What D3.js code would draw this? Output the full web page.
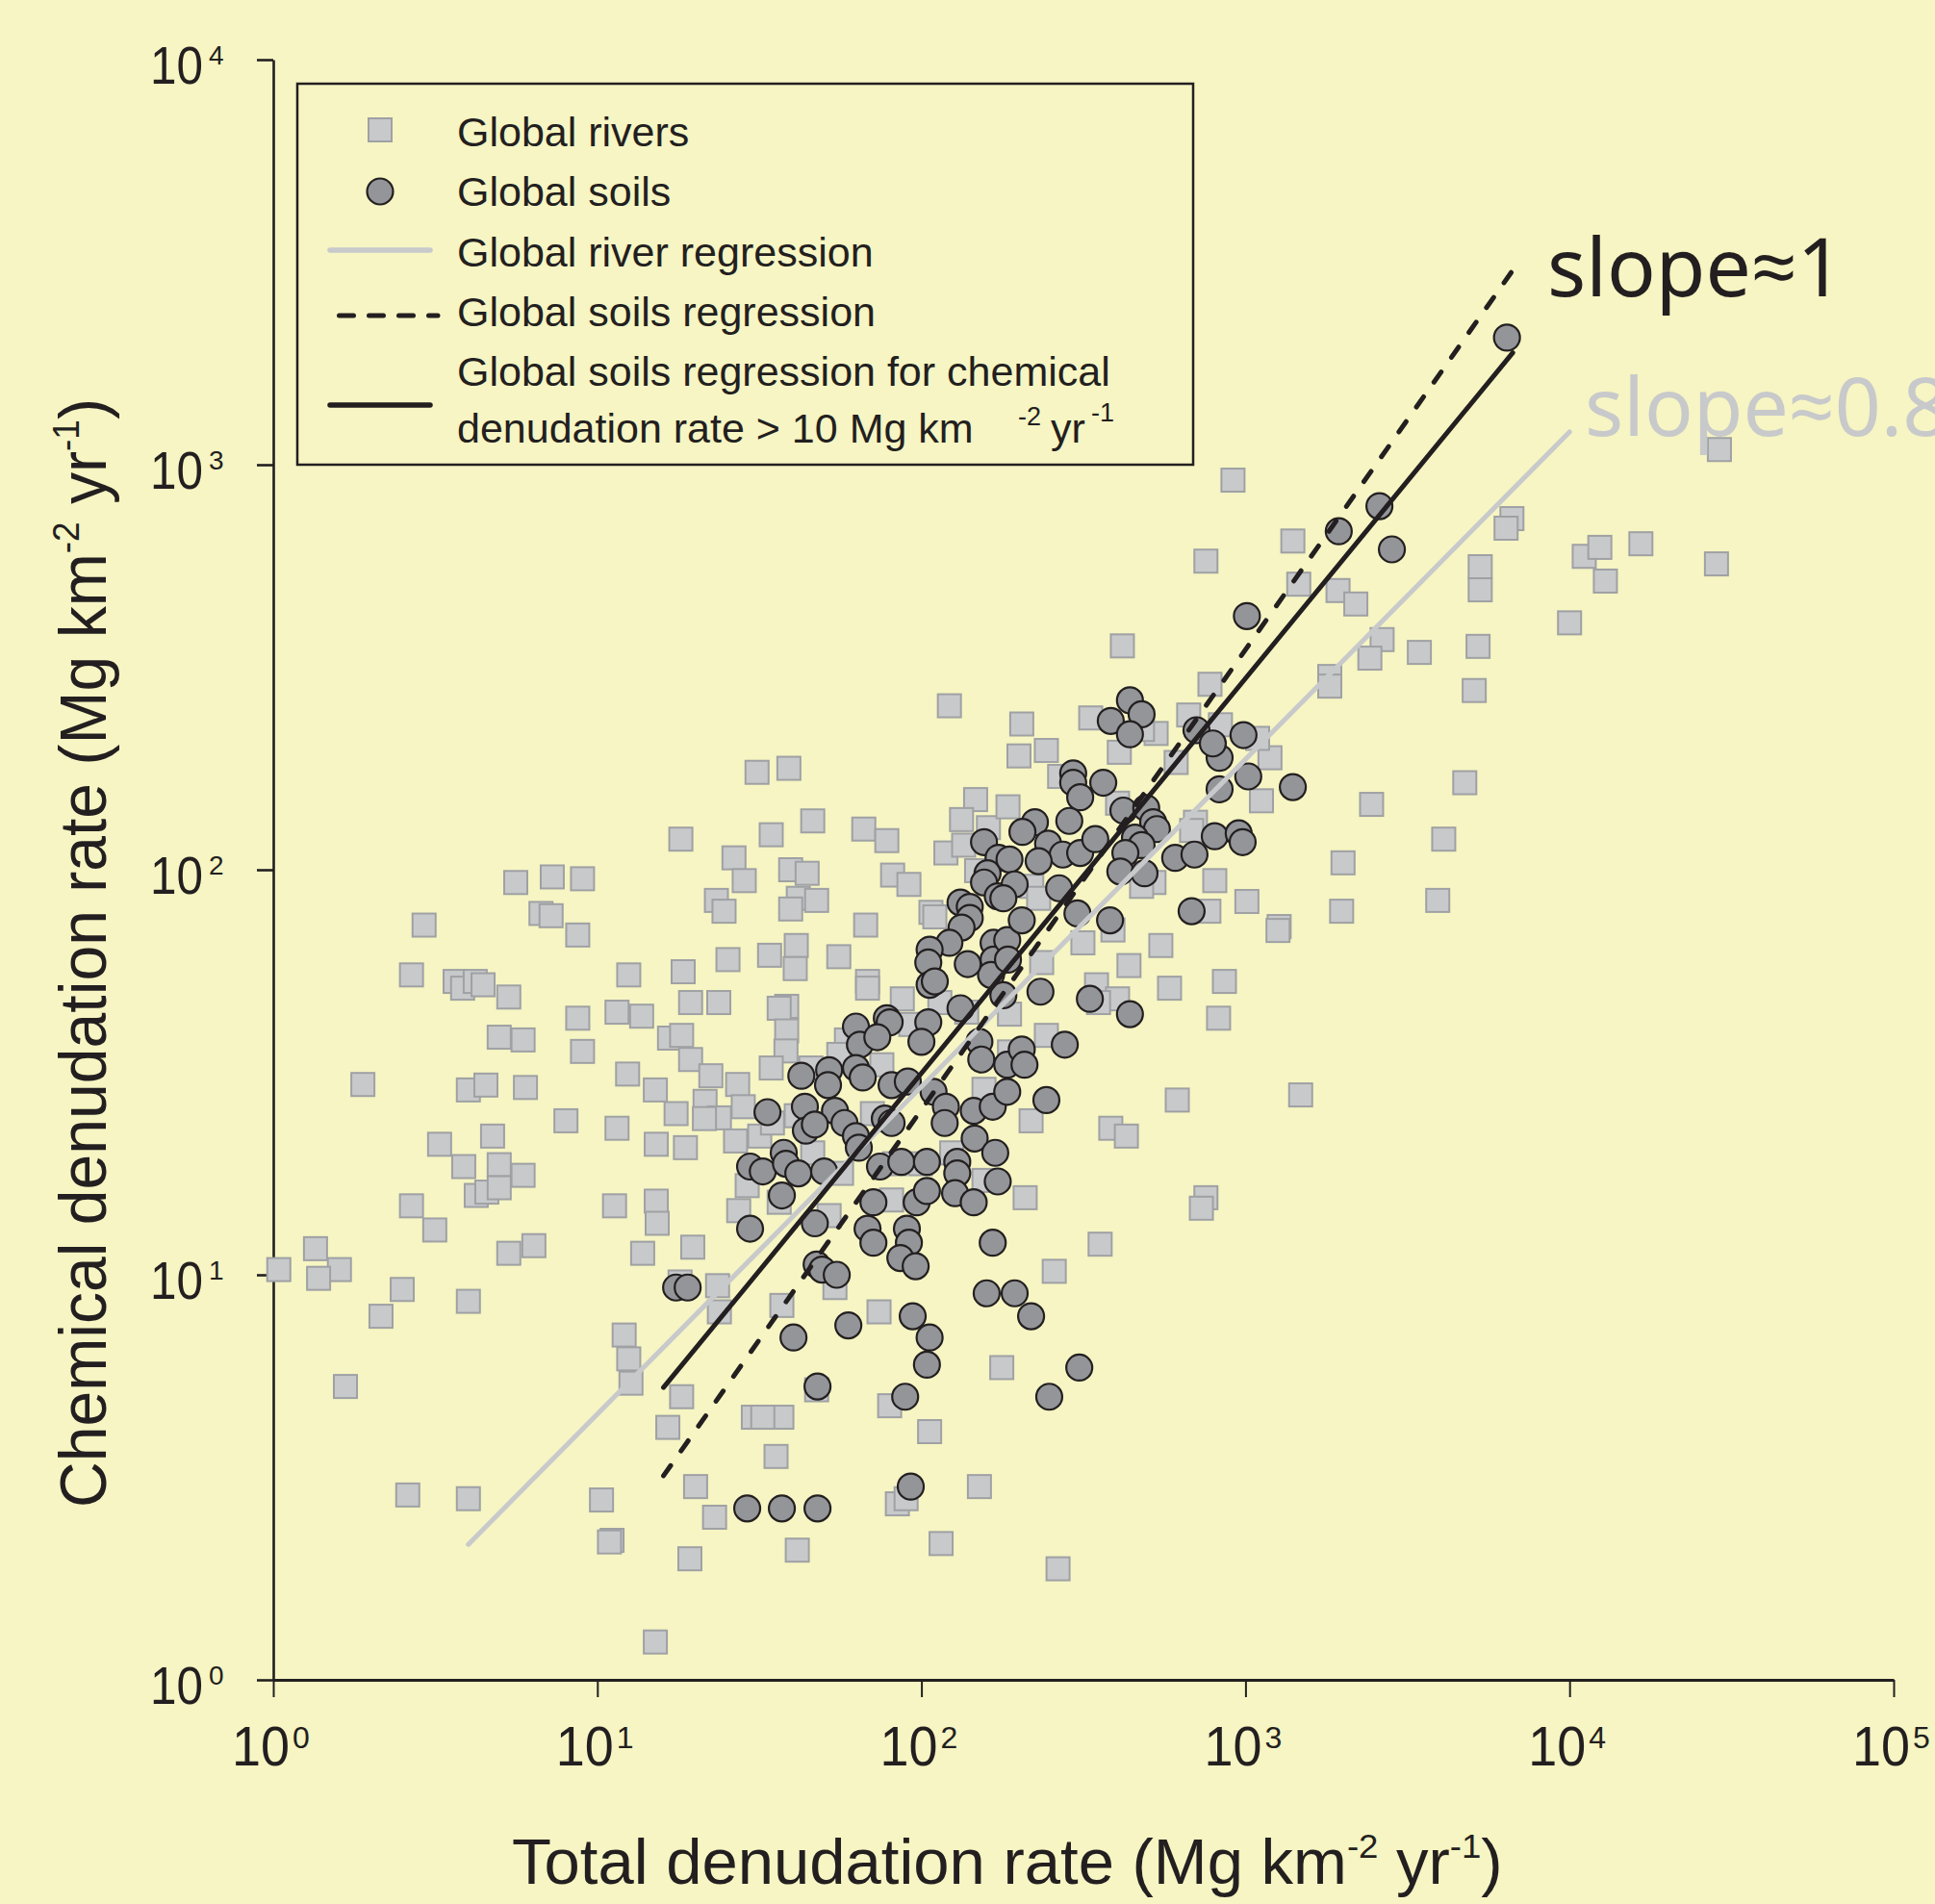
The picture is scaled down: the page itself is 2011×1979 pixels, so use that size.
<!DOCTYPE html>
<html><head><meta charset="utf-8">
<script src="https://cdn.jsdelivr.net/npm/d3@7"></script>
<style>
html,body{margin:0;padding:0;background:#F6F5C3;}
svg{display:block;}
text{font-family:"Liberation Sans", Arial, sans-serif; fill:#231F20;}
</style></head><body>
<svg id="chart" width="2011" height="1979"></svg>
<script>
// ---- data ----
const xTicks = [1, 10, 100, 1000, 10000, 100000];
const yTicks = [1, 10, 100, 1000, 10000];

// Global rivers: [total denudation, chemical denudation] (Mg km-2 yr-1)
const globalRivers = [
[18.1,119],[26.4,107],[28.4,94],[23.3,84],[24.6,79],[25.3,60],[31.1,174],[5.6,93],[7.26,96],[9.0,95],[6.7,78],[7.2,77],[8.7,69],[2.92,73],[2.67,55],[3.64,53],[3.84,51],[4.2,53],[4.44,52],[5.33,48.5],[8.7,43],[12.5,55],[18.4,56],[11.5,44.5],[13.7,43.5],[19.4,47],[23.7,47],[4.98,38.6],[5.9,38],[9.0,35.6],[16.7,38.4],[18.2,39],[19.4,34],[22.4,31],[27.1,29.5],[12.4,31.3],[15.1,28.6],[1.89,29.5],[4.0,28.6],[4.53,29.4],[6.0,29],[21.5,26.8],[23.8,24.4],[21.4,24.3],[17.5,25],[28.2,26],[8.0,24],[11.5,23],[15.2,21],[18.7,20.6],[26.7,21.4],[31.7,22],[3.26,21],[4.75,22],[3.87,18.5],[4.98,18.7],[5.9,17.6],[4.23,15.7],[4.56,16],[4.98,16.4],[2.67,14.8],[11.3,14.8],[15.2,15.2],[29,16.6],[27.3,14.4],
[1.04,10.3],[1.35,11.6],[1.6,10.3],[1.38,9.8],[2.5,9.2],[2.15,7.9],[3.15,12.9],[5.33,11.3],[6.37,11.8],[4.0,8.6],[15.3,13.4],[13.8,11.3],[19.7,11.7],[18,9.6],[23.5,9.4],[23.8,8.1],[12.1,7.1],[12.5,6.2],[12.7,5.4],[18.2,5.0],[16.5,4.2],[30.3,4.45],[1.67,5.3],[2.6,2.86],[4.0,2.8],[10.3,2.78],[20.1,3.0],[23,2.52],[11.1,2.21],[10.9,2.19],[19.3,1.99],[15.1,1.24],
[915,916],[755,578],[417,357],[122,254],[204,229],[200,191],[243,197],[333,237],[530,217],[481,222],[408,195],[777,287],[668,241],[837,228],[611,184],[39,178],
[1400,648],[1460,507],[1930,489],[2190,453],[6640,736],[6370,697],[5300,560],[5300,491],[11100,594],[12400,625],[16600,638],[12900,516],[28400,569],[10000,407],[29000,1090],[2640,370],[2420,333],[3440,344],[5220,356],[5080,277],[1820,300],[1820,284],[1190,189],[1090,211],
[1120,148],[4750,164],[2450,145],[4090,119],[2000,104],[3920,84],[1980,79],[1270,72.4],[1260,70.8],[1480,27.8],
[267,170],[403,146],[701,131],[682,125],[804,94],[1010,83.5],[771,79],[522,93],[478,91],[315,66],[390,71],[548,65],[437,58],[235,59],[347,52],[403,48],[352,47],[583,51],[861,53],[826,43],[243,39],[616,27],[384,23],[429,22],[218,24],[209,15.5],[755,15.5],[731,14.6],[219,91],[230,85],
[46.2,132],[34.4,122],[66.4,126],[78.2,118],[39.5,100],[44.4,98],[41.7,85],[47.5,84],[39.5,80],[81.5,97],[91.5,92],[67.3,73],[107,78.5],[110,76.5],[147,149],[133,133],[119,110],[135,115],[161,127],[185,143],[148,99.5],[41.1,65],[40.8,57],[34,61.5],[55.6,61],[68.2,53],[68.2,51],[87.3,48],[38.4,46],[36.4,45.5],[38.4,40],[38.2,35.7],[34.4,32.4],[45.6,32.4],[58.7,38],[55.6,35],[75.5,33],[92.7,41.5],[114,47],[138,44.5],[156,28.7],[187,44],[187,35.5],[41.1,24.7],[34.7,23.7],[46.2,20],[56.7,17.8],[82.6,18.8],[99.3,18.8],[124,20],[156,17.1],[80.9,15.3],[51.9,14],[36.4,15.1],[70.6,25],
[356,11.9],[257,10.2],[37.1,8.4],[54.1,9.3],[74,8.1],[177,5.9],[47.5,5.2],[79.8,4.75],[37.1,4.45],[32.4,4.45],[106,4.1],[35.6,3.56],[151,3.0],[84.3,2.72],[89.7,2.8],[41.4,2.09],[115,2.17],[264,1.88]
];

// Global soils
const globalSoils = [
[17.5,9.3],[19,9.3],[29.6,13],[29,2.65],[29.6,18.5],[32.4,18],
[156,117],[173,107],[160,98],[156,93],[172,86],[132,83],[141,81],[141,76],[133,72],[122,66],[106,63.5],[105,59],[106,52],[110,53],[167,66],[167,60],[164,55],[139,58.5],[184,67],[132,45.5],[105,42],[100,37.6],[78.2,43],[79.8,42],[62.8,41],[64.6,37],[73.1,38.6],[151,37.6],[153,34],[184,33],[42.6,31],[51.9,32],[51.5,29.4],[62.8,32.4],[65.9,30.7],[80.9,29.4],[90.8,30],[109,28.3],[119,26],[118,23.7],[145,25.4],[166,26],[184,28.3],[33.5,25.2],[43.7,26],[54.1,25.4],[44,22.7],[46.9,23.5],[57.9,23.7],[62.8,22],[64.1,20.6],[77.1,24.3],[80.9,23.7],[37.6,20],[38.2,18.8],[41.7,17.8],[37.1,15.7],[50.1,18],[74.5,18.5],[86.7,19],[104,19],[129,19],[129,17.8],[146,21.7],[169,20],[172,17],[71.1,15.1],[96.7,15.1],[104,16.1],[127,15.9],[145,15.1],[46.9,13.4],[68.2,13],[90.2,13],
[294,173],[294,164],[309,151],[364,164],[286,132],[224,131],[205,124],[246,116],[273,109],[230,105],[309,110],[344,119],[420,140],[494,142],[519,131],[533,126],[456,120],[478,115],[426,110],[411,99],[488,98],[607,107],[696,109],[804,121],[953,123],[980,117],[832,158],[832,189],[1020,170],[187,106],[194,92],[179,85],[266,90],[303,78],[382,75],[682,79],[204,75],[185,60],[233,50],[331,48],[440,44],[277,37],[204,36],[208,33],[243,27],[179,49],
[440,262],[384,233],[478,242],[440,216],[706,221],[793,205],[986,215],[1010,423],[6410,2060],[2590,790],[1940,685],[2830,618],[1400,160],
[71.1,12],[91.5,12],[86.1,11],[96,10.5],[47.5,10.6],[49.4,10.3],[54.8,10],[166,12],[159,9.0],[194,9.0],[218,7.9],[94,7.9],[106,7.0],[104,6.0],[59.5,7.5],[40.3,7.0],[47.8,5.3],[89.1,5.0],[307,5.9],[248,5.0],[92.7,3.0],[37.1,2.65],[47.8,2.65]
];

// regression lines (end points)
const riverRegression = [[4.0, 2.16], [10000, 1205]];
const soilsRegression = [[16, 3.19], [6680, 3020]];
const soilsRegression10 = [[16, 5.27], [6680, 1890]];

const legendLabels = ["Global rivers", "Global soils", "Global river regression", "Global soils regression", "Global soils regression for chemical"];
const slopeLabels = ["slope\u22481", "slope\u22480.8"];

// ---- drawing ----
const INK = "#231F20", SQ_FILL = "#C8C9CB", SQ_STROKE = "#9FA1A4", CIRC = "#939598", GREYLINE = "#C8C9CB";
const svg = d3.select("#chart");
svg.append("rect").attr("width", 2011).attr("height", 1979).attr("fill", "#F6F5C3");

const x = d3.scaleLog().domain([1, 1e5]).range([284, 1968]);
const y = d3.scaleLog().domain([1, 1e4]).range([1746, 62]);

// axes
const gx = svg.append("g").attr("transform", "translate(0,1746)")
  .call(d3.axisBottom(x).tickValues(xTicks).tickSize(18).tickSizeOuter(0).tickFormat(() => ""));
gx.select(".domain").attr("stroke", INK).attr("stroke-width", 3.2);
gx.selectAll(".tick line").attr("stroke", INK).attr("stroke-width", 2);

const gy = svg.append("g").attr("transform", "translate(284,0)")
  .call(d3.axisLeft(y).tickValues(yTicks).tickSize(17).tickSizeOuter(0).tickFormat(() => ""));
gy.select(".domain").attr("stroke", INK).attr("stroke-width", 2.6);
gy.selectAll(".tick line").attr("stroke", INK).attr("stroke-width", 2.6);

// tick labels
xTicks.forEach(v => {
  const px = x(v), e = Math.round(Math.log10(v));
  svg.append("text").attr("x", px - 43).attr("y", 1835)
    .attr("font-size", 58).attr("textLength", 60).attr("lengthAdjust", "spacingAndGlyphs").text("10");
  svg.append("text").attr("x", px + 20).attr("y", 1817).attr("font-size", 32).text(e);
});
yTicks.forEach(v => {
  const py = y(v), e = Math.round(Math.log10(v));
  svg.append("text").attr("x", 156).attr("y", py + 25)
    .attr("font-size", 56).attr("textLength", 55).attr("lengthAdjust", "spacingAndGlyphs").text("10");
  svg.append("text").attr("x", 217).attr("y", py + 5).attr("font-size", 28).text(e);
});

// axis titles
function unitTitle(sel, main, fs, sfs, up) {
  sel.append("tspan").text(main + " (Mg km");
  sel.append("tspan").attr("font-size", sfs).attr("dy", -up).text("-2");
  sel.append("tspan").attr("font-size", fs).attr("dy", up).text(" yr");
  sel.append("tspan").attr("font-size", sfs).attr("dy", -up).text("-1");
  sel.append("tspan").attr("font-size", fs).attr("dy", up).text(")");
}
const xt = svg.append("text").attr("x", 0).attr("y", 0).attr("font-size", 66);
unitTitle(xt, "Total denudation rate", 66, 36, 27);
{
  const w = xt.node().getBBox().width;
  xt.attr("transform", `translate(532,1958) scale(${1030 / w},1)`);
}
const yt = svg.append("text").attr("x", 0).attr("y", 0).attr("font-size", 68).attr("text-anchor", "start");
unitTitle(yt, "Chemical denudation rate", 68, 38, 28);
{
  const w = yt.node().getBBox().width;
  const k = 1153 / w;
  yt.attr("transform", `translate(110,1567) rotate(-90) scale(${k},1)`);
}

// points
svg.append("g").selectAll("rect").data(globalRivers).join("rect")
  .attr("x", d => x(d[0]) - 12).attr("y", d => y(d[1]) - 12)
  .attr("width", 24).attr("height", 24)
  .attr("fill", SQ_FILL).attr("stroke", SQ_STROKE).attr("stroke-width", 2);

svg.append("g").selectAll("circle").data(globalSoils).join("circle")
  .attr("cx", d => x(d[0])).attr("cy", d => y(d[1])).attr("r", 13.5)
  .attr("fill", CIRC).attr("stroke", INK).attr("stroke-width", 2.2);

// regression lines
const line = d3.line().x(d => x(d[0])).y(d => y(d[1]));
svg.append("path").attr("d", line(riverRegression)).attr("fill", "none")
  .attr("stroke", GREYLINE).attr("stroke-width", 5).attr("stroke-linecap", "round");
svg.append("path").attr("d", line(soilsRegression)).attr("fill", "none")
  .attr("stroke", INK).attr("stroke-width", 5).attr("stroke-linecap", "round")
  .attr("stroke-dasharray", "13 18.6");
svg.append("path").attr("d", line(soilsRegression10)).attr("fill", "none")
  .attr("stroke", INK).attr("stroke-width", 5).attr("stroke-linecap", "round");

// slope labels
svg.append("text").attr("x", 1608).attr("y", 308).attr("font-size", 84)
  .style("font-family", "'Noto Sans','Open Sans',sans-serif").style("fill", INK).text(slopeLabels[0]);
svg.append("text").attr("x", 1647).attr("y", 453).attr("font-size", 84)
  .style("font-family", "'Noto Sans','Open Sans',sans-serif").style("fill", GREYLINE).text(slopeLabels[1]);

// legend
const lg = svg.append("g");
lg.append("rect").attr("x", 309).attr("y", 87).attr("width", 931).attr("height", 396)
  .attr("fill", "none").attr("stroke", INK).attr("stroke-width", 2.5);
lg.append("rect").attr("x", 383).attr("y", 123).attr("width", 24).attr("height", 24)
  .attr("fill", SQ_FILL).attr("stroke", SQ_STROKE).attr("stroke-width", 2);
lg.append("circle").attr("cx", 395).attr("cy", 199).attr("r", 13.5)
  .attr("fill", CIRC).attr("stroke", INK).attr("stroke-width", 2.2);
lg.append("line").attr("x1", 343).attr("x2", 447).attr("y1", 260).attr("y2", 260)
  .attr("stroke", GREYLINE).attr("stroke-width", 5.5).attr("stroke-linecap", "round");
lg.append("line").attr("x1", 352.5).attr("x2", 455).attr("y1", 328).attr("y2", 328)
  .attr("stroke", INK).attr("stroke-width", 5).attr("stroke-linecap", "round").attr("stroke-dasharray", "15 16");
lg.append("line").attr("x1", 343).attr("x2", 447).attr("y1", 421).attr("y2", 421)
  .attr("stroke", INK).attr("stroke-width", 5.5).attr("stroke-linecap", "round");
const lgY = [152, 214, 277, 339, 401];
legendLabels.forEach((t, i) => {
  lg.append("text").attr("x", 475).attr("y", lgY[i]).attr("font-size", 43).text(t);
});
const last = lg.append("text").attr("x", 475).attr("y", 460).attr("font-size", 43);
last.append("tspan").text("denudation rate > 10 Mg km");
last.append("tspan").attr("x", 1058).attr("dy", -18).attr("font-size", 27).text("-2");
last.append("tspan").attr("x", 1092).attr("dy", 18).attr("font-size", 43).text("yr");
last.append("tspan").attr("x", 1134).attr("dy", -22).attr("font-size", 27).text("-1");
</script>
</body></html>
